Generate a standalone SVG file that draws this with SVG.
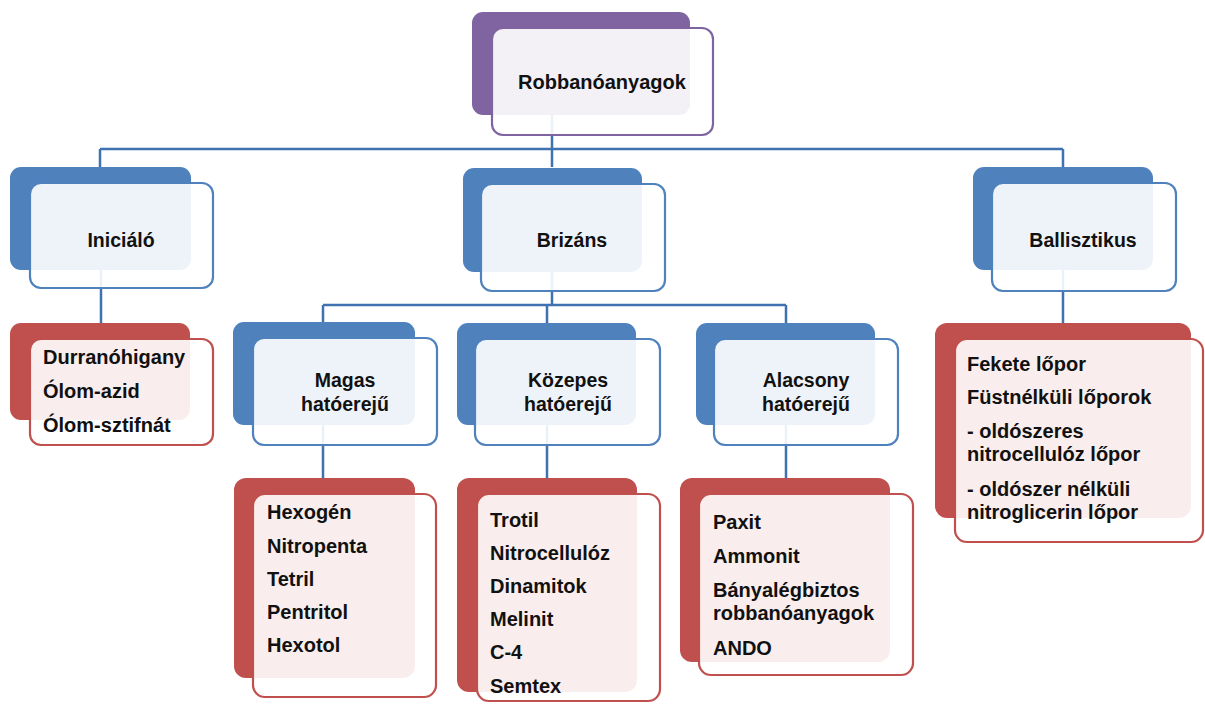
<svg xmlns="http://www.w3.org/2000/svg" width="1205" height="706" viewBox="0 0 1205 706">
<style>
text{font-family:"Liberation Sans",Arial,sans-serif;font-weight:bold;fill:#111;}
.h{font-size:19.5px;text-anchor:middle;}
.t{font-size:20px;}
.bp{fill:#8064a2;}
.bb{fill:#4f81bd;}
.br{fill:#c0504d;}
.fp{fill:#fff;fill-opacity:0.9;stroke:#8064a2;stroke-width:2.2;}
.fb{fill:#fff;fill-opacity:0.9;stroke:#4f81bd;stroke-width:2.2;}
.fr{fill:#fff;fill-opacity:0.9;stroke:#c0504d;stroke-width:2.2;}
.c{fill:none;stroke:#3f72b0;stroke-width:2.5;}
</style>
<g id="connectors">
<path class="c" d="M552 115V149M100 149H1063M100 149V167M552 149V167M1063 149V167"/>
<path class="c" d="M101 270V323M1063 270V323"/>
<path class="c" d="M552 272V305M323 305H786M323 305V323M547 305V323M786 305V323"/>
<path class="c" d="M323 425V478M547 425V478M786 425V478"/>
</g>
<g id="n-robbano">
<rect class="bp" x="472" y="12" width="218" height="103" rx="11"/>
<rect class="fp" x="492" y="28" width="221" height="107" rx="11"/>
<text class="h" x="602" y="89" style="font-size:20px">Robbanóanyagok</text>
</g>
<g id="n-inicialo">
<rect class="bb" x="10" y="167" width="181" height="103" rx="11"/>
<rect class="fb" x="30" y="183" width="183" height="105" rx="11"/>
<text class="h" x="121" y="247">Iniciáló</text>
</g>
<g id="n-brizans">
<rect class="bb" x="463" y="168" width="179" height="104" rx="11"/>
<rect class="fb" x="481" y="184" width="184" height="107" rx="11"/>
<text class="h" x="572" y="247">Brizáns</text>
</g>
<g id="n-ballisztikus">
<rect class="bb" x="973" y="167" width="180" height="103" rx="11"/>
<rect class="fb" x="992" y="183" width="184" height="108" rx="11"/>
<text class="h" x="1083" y="247">Ballisztikus</text>
</g>
<g id="n-magas">
<rect class="bb" x="233" y="322" width="182" height="103" rx="11"/>
<rect class="fb" x="253" y="338" width="184" height="107" rx="11"/>
<text class="h" x="345" y="387">Magas</text>
<text class="h" x="345" y="411">hatóerejű</text>
</g>
<g id="n-kozepes">
<rect class="bb" x="457" y="323" width="179" height="102" rx="11"/>
<rect class="fb" x="475" y="339" width="185" height="106" rx="11"/>
<text class="h" x="568" y="387">Közepes</text>
<text class="h" x="568" y="411">hatóerejű</text>
</g>
<g id="n-alacsony">
<rect class="bb" x="696" y="323" width="179" height="102" rx="11"/>
<rect class="fb" x="714" y="339" width="184" height="106" rx="11"/>
<text class="h" x="806" y="387">Alacsony</text>
<text class="h" x="806" y="411">hatóerejű</text>
</g>
<g id="n-inicialo-list">
<rect class="br" x="10" y="323" width="180" height="97" rx="11"/>
<rect class="fr" x="30" y="339" width="183" height="106" rx="11"/>
<text class="t" x="43" y="364">Durranóhigany</text>
<text class="t" x="43" y="398">Ólom-azid</text>
<text class="t" x="43" y="432">Ólom-sztifnát</text>
</g>
<g id="n-magas-list">
<rect class="br" x="234" y="478" width="181" height="200" rx="12"/>
<rect class="fr" x="253" y="494" width="183" height="203" rx="12"/>
<text class="t" x="267" y="519">Hexogén</text>
<text class="t" x="267" y="553">Nitropenta</text>
<text class="t" x="267" y="586">Tetril</text>
<text class="t" x="267" y="619">Pentritol</text>
<text class="t" x="267" y="652">Hexotol</text>
</g>
<g id="n-kozepes-list">
<rect class="br" x="457" y="478" width="180" height="214" rx="12"/>
<rect class="fr" x="477" y="494" width="183" height="207" rx="12"/>
<text class="t" x="490" y="527">Trotil</text>
<text class="t" x="490" y="560">Nitrocellulóz</text>
<text class="t" x="490" y="593">Dinamitok</text>
<text class="t" x="490" y="626">Melinit</text>
<text class="t" x="490" y="659">C-4</text>
<text class="t" x="490" y="693">Semtex</text>
</g>
<g id="n-alacsony-list">
<rect class="br" x="680" y="478" width="210" height="184" rx="12"/>
<rect class="fr" x="699" y="494" width="214" height="181" rx="12"/>
<text class="t" x="713" y="529">Paxit</text>
<text class="t" x="713" y="563">Ammonit</text>
<text class="t" x="713" y="597">Bányalégbiztos</text>
<text class="t" x="713" y="620">robbanóanyagok</text>
<text class="t" x="713" y="655">ANDO</text>
</g>
<g id="n-ballisztikus-list">
<rect class="br" x="935" y="323" width="256" height="195" rx="12"/>
<rect class="fr" x="955" y="339" width="248" height="203" rx="12"/>
<text class="t" x="967" y="371">Fekete lőpor</text>
<text class="t" x="967" y="404">Füstnélküli lőporok</text>
<text class="t" x="967" y="438">- oldószeres</text>
<text class="t" x="967" y="461">nitrocellulóz lőpor</text>
<text class="t" x="967" y="496">- oldószer nélküli</text>
<text class="t" x="967" y="519">nitroglicerin lőpor</text>
</g>
</svg>
